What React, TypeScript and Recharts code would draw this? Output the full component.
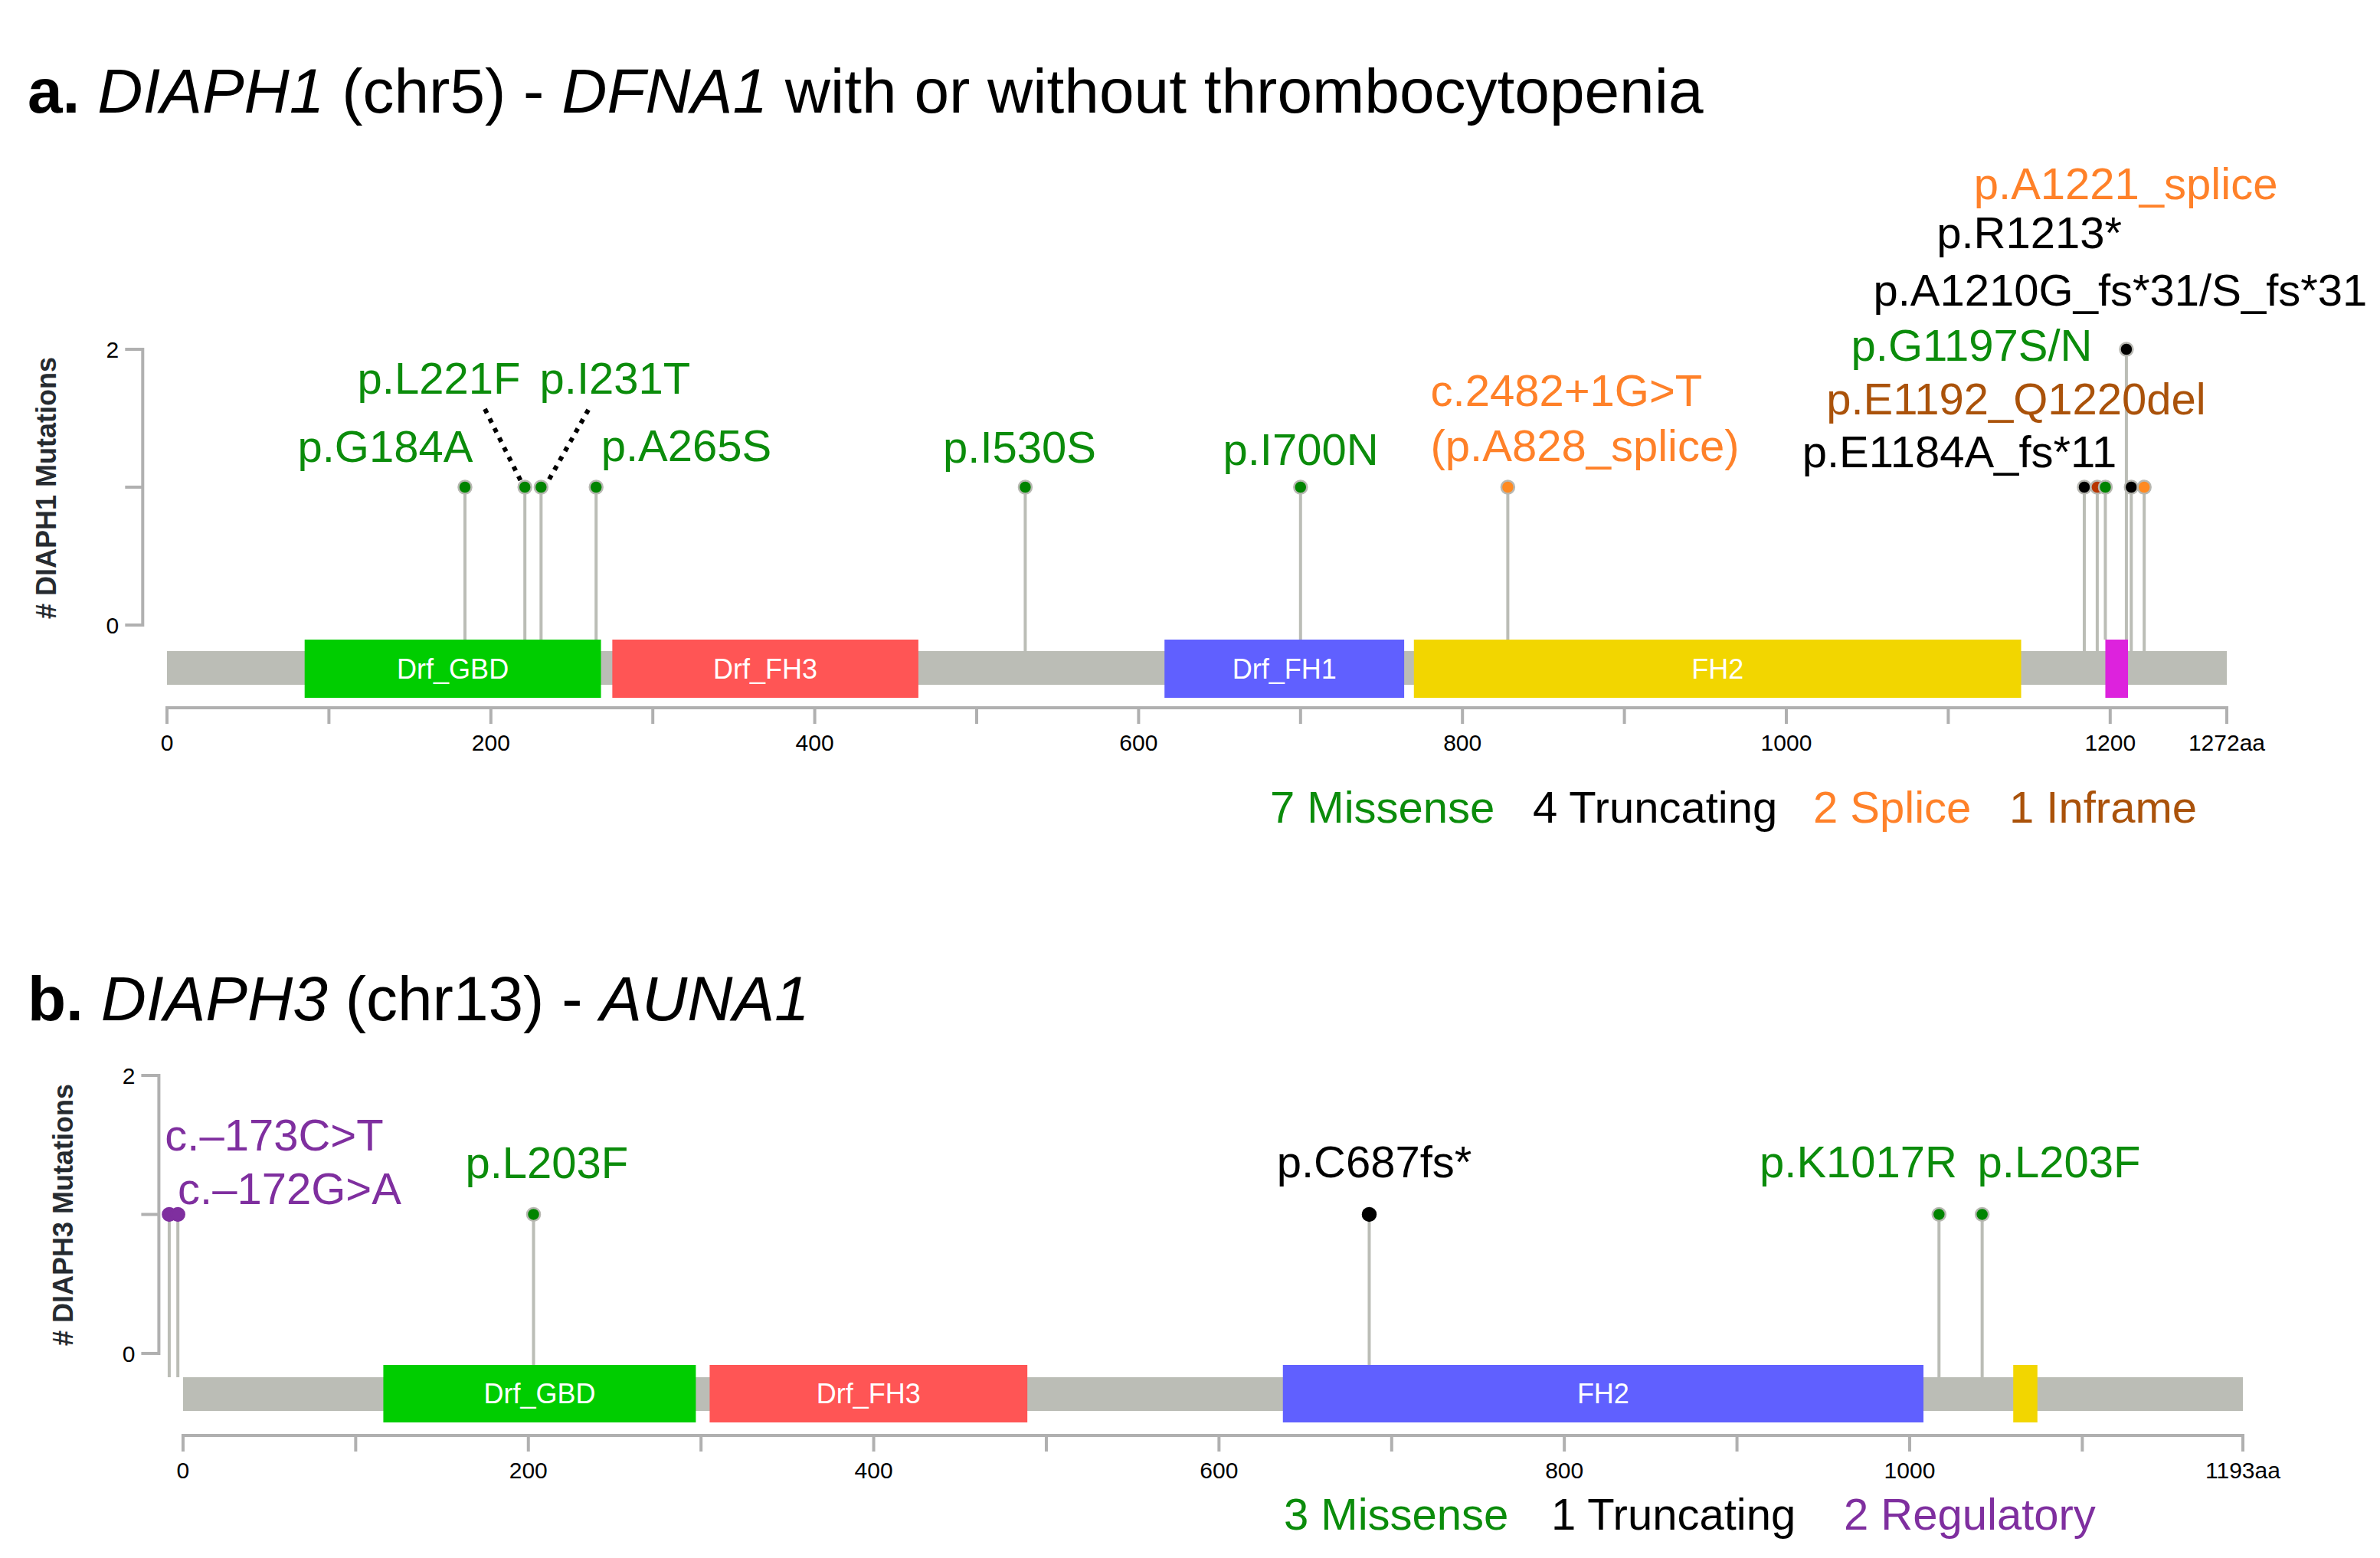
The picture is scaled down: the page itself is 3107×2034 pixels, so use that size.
import React from 'react'
import { ComposedChart, XAxis, YAxis, Scatter, ErrorBar, ReferenceArea, ReferenceLine } from 'recharts'

const FONT = '"Liberation Sans", Arial, Helvetica, sans-serif'
const W = 3107
const H = 2034

const AXIS_GREY = '#b0b0b0'
const STEM_GREY = '#bbbdb6'
const BACKBONE_GREY = '#bbbdb6'
const DOT_RING = '#b8b8b2'

const TYPE_STYLE: Record<string, { dot: string; text: string }> = {
  Missense: { dot: '#008400', text: '#0b8c0b' },
  Truncating: { dot: '#000000', text: '#000000' },
  Splice: { dot: '#ff8a22', text: '#ff8129' },
  Inframe: { dot: '#b83500', text: '#aa520a' },
  Regulatory: { dot: '#7f2f9f', text: '#7f2f9f' },
}

// ---------- a. DIAPH1 ----------
const A_LENGTH = 1272
const A_TICKS = [0, 100, 200, 300, 400, 500, 600, 700, 800, 900, 1000, 1100, 1200, 1272]
const A_DOMAIN_NAMES = ['Drf_GBD', 'Drf_FH3', 'Drf_FH1', 'FH2', '']
const A_DOMAIN_START = [85, 275, 616, 770, 1197]
const A_DOMAIN_END = [268, 464, 764, 1145, 1211]
const A_DOMAIN_COLORS = ['#00cd00', '#ff5555', '#6060ff', '#f2d600', '#dd22dd']

const A_MUT_POS = [184, 221, 231, 265, 530, 700, 828, 1184, 1192, 1197, 1210, 1213, 1221]
const A_MUT_COUNT = [1, 1, 1, 1, 1, 1, 1, 1, 1, 1, 2, 1, 1]
const A_MUT_TYPE = ['Missense', 'Missense', 'Missense', 'Missense', 'Missense', 'Missense', 'Splice',
  'Truncating', 'Inframe', 'Missense', 'Truncating', 'Truncating', 'Splice']

const A_LABELS = ['p.G184A', 'p.L221F', 'p.I231T', 'p.A265S', 'p.I530S', 'p.I700N', 'c.2482+1G>T',
  '(p.A828_splice)', 'p.E1184A_fs*11', 'p.E1192_Q1220del', 'p.G1197S/N', 'p.A1210G_fs*31/S_fs*31',
  'p.R1213*', 'p.A1221_splice']
const A_LABEL_TYPE = ['Missense', 'Missense', 'Missense', 'Missense', 'Missense', 'Missense', 'Splice',
  'Splice', 'Truncating', 'Inframe', 'Missense', 'Truncating', 'Truncating', 'Splice']
// label anchors in (aa, mutation count) units
const A_LABEL_X = [134.8, 167.9, 276.7, 320.7, 526.5, 700.1, 864.2, 875.6, 1106.9, 1141.9, 1114.5, 1206.2, 1150, 1209.6]
const A_LABEL_Y = [1.183, 1.678, 1.678, 1.189, 1.178, 1.161, 1.589, 1.189, 1.144, 1.528, 1.917, 2.317, 2.733, 3.089]
// dotted leader lines [x1, y1, x2, y2]
const A_LEADERS = [[196.3, 1.567, 219, 1.033], [260.2, 1.561, 234.6, 1.028]]
const A_LEGEND_TYPES = ['Missense', 'Truncating', 'Splice', 'Inframe']

// ---------- b. DIAPH3 ----------
const B_LENGTH = 1193
const B_TICKS = [0, 100, 200, 300, 400, 500, 600, 700, 800, 900, 1000, 1100, 1193]
const B_DOMAIN_NAMES = ['Drf_GBD', 'Drf_FH3', 'FH2', '']
const B_DOMAIN_START = [116, 305, 637, 1060]
const B_DOMAIN_END = [297, 489, 1008, 1074]
const B_DOMAIN_COLORS = ['#00cd00', '#ff5555', '#6060ff', '#f2d600']

const B_MUT_POS = [-8, -3, 203, 687, 1017, 1042]
const B_MUT_COUNT = [1, 1, 1, 1, 1, 1]
const B_MUT_TYPE = ['Regulatory', 'Regulatory', 'Missense', 'Truncating', 'Missense', 'Missense']

const B_LABELS = ['c.\u2013173C>T', 'c.\u2013172G>A', 'p.L203F', 'p.C687fs*', 'p.K1017R', 'p.L203F']
const B_LABEL_TYPE = ['Regulatory', 'Regulatory', 'Missense', 'Truncating', 'Missense', 'Missense']
const B_LABEL_X = [52.8, 61.7, 210.7, 689.9, 970.3, 1086.5]
const B_LABEL_Y = [1.46, 1.074, 1.262, 1.267, 1.267, 1.267]
const B_LEGEND_TYPES = ['Missense', 'Truncating', 'Regulatory']

const countByType = (types: string[], counts: number[], t: string) =>
  types.reduce((s, ty, i) => (ty === t ? s + counts[i] : s), 0)

const Dot = (props: any) => {
  const { cx, cy, payload } = props
  const st = TYPE_STYLE[payload.type]
  return (
    <circle cx={cx} cy={cy} r={8.5} fill={st.dot}
      stroke={payload.outline ? DOT_RING : st.dot} strokeWidth={2.5} />
  )
}

const LabelText = (props: any) => {
  const { cx, cy, payload } = props
  return (
    <text x={cx} y={cy} textAnchor="middle" fontSize={58} fontFamily={FONT}
      fill={TYPE_STYLE[payload.type].text}>
      {payload.text}
    </text>
  )
}

function Panel({ cfg }: { cfg: any }) {
  const stemBase = (p: number) => {
    const inDomain = cfg.domStart.some((s: number, i: number) => p >= s && p <= cfg.domEnd[i])
    return inDomain ? cfg.domainY[1] : cfg.backboneY[1]
  }
  const points = cfg.pos.map((p: number, i: number) => ({
    x: p,
    y: cfg.count[i],
    type: cfg.type[i],
    outline: cfg.outlined(cfg.type[i]),
    err: [cfg.count[i] - stemBase(p), 0],
  }))
  const labels = cfg.labels.map((t: string, i: number) => ({
    x: cfg.labelX[i], y: cfg.labelY[i], text: t, type: cfg.labelType[i],
  }))

  const renderTick = (p: any) => {
    const v = p.payload.value
    const txt = v === cfg.length ? `${v}aa` : v % 200 === 0 ? String(v) : ''
    return (
      <text x={p.x} y={p.y} dy={33} textAnchor="middle" fontSize={30} fontFamily={FONT} fill="#000">
        {txt}
      </text>
    )
  }

  return (
    <ComposedChart width={W} height={cfg.height} margin={cfg.margin}>
      <XAxis type="number" dataKey="x" domain={[cfg.xMin, cfg.length]} ticks={cfg.ticks} interval={0}
        axisLine={false} tickSize={21} tickLine={{ stroke: AXIS_GREY, strokeWidth: 4 }}
        tick={renderTick} height={60} />
      <YAxis type="number" dataKey="y" domain={[cfg.yMin, cfg.yMax]} ticks={[0, 1, 2]} interval={0}
        axisLine={false} tickSize={23} tickMargin={8}
        tickLine={{ stroke: AXIS_GREY, strokeWidth: 4 }}
        tick={{ fontSize: 30, fill: '#000', fontFamily: FONT }}
        tickFormatter={(v: number) => (v === 1 ? '' : String(v))} width={150} />

      <ReferenceLine segment={[{ x: cfg.xMin, y: 0 }, { x: cfg.xMin, y: 2 }]} stroke={AXIS_GREY}
        strokeWidth={4} strokeLinecap="square" ifOverflow="visible" />
      <ReferenceLine segment={[{ x: 0, y: cfg.yMin }, { x: cfg.length, y: cfg.yMin }]} stroke={AXIS_GREY}
        strokeWidth={4} strokeLinecap="square" ifOverflow="visible" />

      <ReferenceArea x1={0} x2={cfg.length} y1={cfg.backboneY[0]} y2={cfg.backboneY[1]}
        fill={BACKBONE_GREY} fillOpacity={1} stroke="none" ifOverflow="visible" />
      {cfg.domNames.map((name: string, i: number) => (
        <ReferenceArea key={`dom-${i}`} x1={cfg.domStart[i]} x2={cfg.domEnd[i]}
          y1={cfg.domainY[0]} y2={cfg.domainY[1]} fill={cfg.domColors[i]} fillOpacity={1}
          stroke="none" ifOverflow="visible"
          label={name ? { value: name, position: 'center', fill: '#ffffff', fontSize: 36, fontFamily: FONT } : undefined} />
      ))}

      {cfg.leaders.map((l: number[], i: number) => (
        <ReferenceLine key={`lead-${i}`} segment={[{ x: l[0], y: l[1] }, { x: l[2], y: l[3] }]}
          stroke="#000" strokeWidth={6} strokeDasharray="6 8" ifOverflow="visible" />
      ))}

      <Scatter data={points} dataKey="y" isAnimationActive={false} shape={Dot}>
        <ErrorBar dataKey="err" direction="y" width={0} stroke={STEM_GREY} strokeWidth={4}
          isAnimationActive={false} />
      </Scatter>
      <Scatter data={labels} dataKey="y" isAnimationActive={false} shape={LabelText} />
    </ComposedChart>
  )
}

const PANEL_A = {
  height: 1000,
  margin: { top: 222, right: 200, bottom: 16, left: 36.3 },
  length: A_LENGTH, xMin: -15, yMin: -0.6, yMax: 3.3, ticks: A_TICKS,
  backboneY: [-0.433, -0.189], domainY: [-0.528, -0.106],
  domNames: A_DOMAIN_NAMES, domStart: A_DOMAIN_START, domEnd: A_DOMAIN_END, domColors: A_DOMAIN_COLORS,
  pos: A_MUT_POS, count: A_MUT_COUNT, type: A_MUT_TYPE, outlined: () => true,
  labels: A_LABELS, labelType: A_LABEL_TYPE, labelX: A_LABEL_X, labelY: A_LABEL_Y,
  leaders: A_LEADERS,
}

const PANEL_B = {
  height: 640,
  margin: { top: 67.7, right: 179, bottom: 6, left: 57.4 },
  length: B_LENGTH, xMin: -14, yMin: -0.59, yMax: 2.2, ticks: B_TICKS,
  backboneY: [-0.413, -0.171], domainY: [-0.496, -0.083],
  domNames: B_DOMAIN_NAMES, domStart: B_DOMAIN_START, domEnd: B_DOMAIN_END, domColors: B_DOMAIN_COLORS,
  pos: B_MUT_POS, count: B_MUT_COUNT, type: B_MUT_TYPE, outlined: (t: string) => t === 'Missense',
  labels: B_LABELS, labelType: B_LABEL_TYPE, labelX: B_LABEL_X, labelY: B_LABEL_Y,
  leaders: [],
}

const A_LEGEND_X = [1658, 2001, 2367, 2623]
const B_LEGEND_X = [1676, 2025, 2407]

export default function App() {
  return (
    <div style={{ position: 'absolute', left: 0, top: 0, width: W, height: H, background: '#fff', overflow: 'hidden' }}>
      <div style={{ position: 'absolute', left: 0, top: 0 }}>
        <Panel cfg={PANEL_A} />
      </div>
      <div style={{ position: 'absolute', left: 0, top: 1300 }}>
        <Panel cfg={PANEL_B} />
      </div>
      <svg width={W} height={H} style={{ position: 'absolute', left: 0, top: 0, pointerEvents: 'none' }}
        fontFamily={FONT}>
        <text x={36} y={147} fontSize={82} fill="#000">
          <tspan fontWeight="bold">a.</tspan>{' '}
          <tspan fontStyle="italic">DIAPH1</tspan>{' (chr5) - '}
          <tspan fontStyle="italic">DFNA1</tspan>{' with or without thrombocytopenia'}
        </text>
        <text x={36} y={1332} fontSize={82} fill="#000">
          <tspan fontWeight="bold">b.</tspan>{' '}
          <tspan fontStyle="italic">DIAPH3</tspan>{' (chr13) - '}
          <tspan fontStyle="italic">AUNA1</tspan>
        </text>

        <text transform="rotate(-90 73 637)" x={73} y={637} textAnchor="middle" fontSize={36}
          fontWeight="bold" fill="#262b30"># DIAPH1 Mutations</text>
        <text transform="rotate(-90 95 1586)" x={95} y={1586} textAnchor="middle" fontSize={36}
          fontWeight="bold" fill="#262b30"># DIAPH3 Mutations</text>

        {A_LEGEND_TYPES.map((t, i) => (
          <text key={`la-${i}`} x={A_LEGEND_X[i]} y={1074} fontSize={58} fill={TYPE_STYLE[t].text}>
            {`${countByType(A_MUT_TYPE, A_MUT_COUNT, t)} ${t}`}
          </text>
        ))}
        {B_LEGEND_TYPES.map((t, i) => (
          <text key={`lb-${i}`} x={B_LEGEND_X[i]} y={1997} fontSize={58} fill={TYPE_STYLE[t].text}>
            {`${countByType(B_MUT_TYPE, B_MUT_COUNT, t)} ${t}`}
          </text>
        ))}
      </svg>
    </div>
  )
}
